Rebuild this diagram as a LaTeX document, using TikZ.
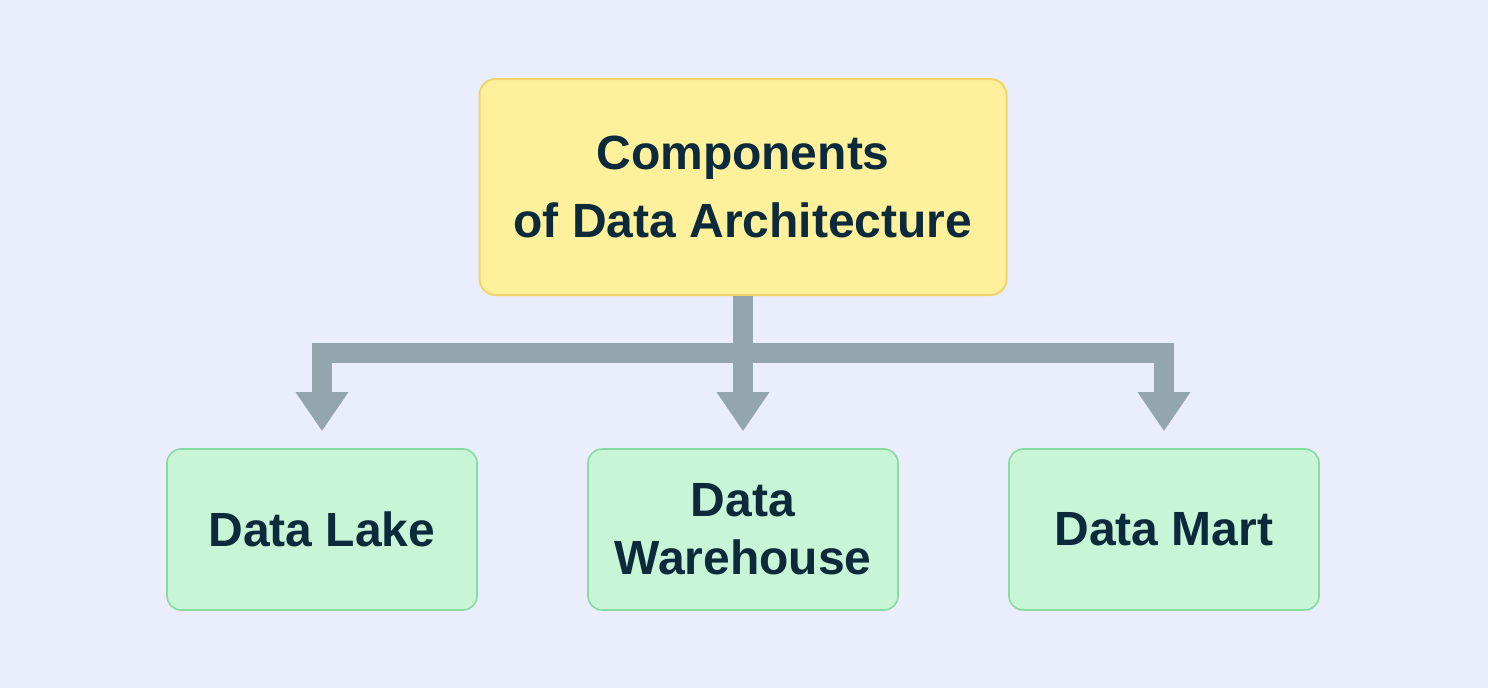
\documentclass[tikz,border=0pt]{standalone}
\usepackage{fontspec}
\setmainfont{Liberation Sans}
\usetikzlibrary{arrows.meta}
\definecolor{bgc}{HTML}{EAEEFC}
\definecolor{yfill}{HTML}{FFF09B}
\definecolor{ydraw}{HTML}{F3D36B}
\definecolor{gfill}{HTML}{C7F5D6}
\definecolor{gdraw}{HTML}{86DC9E}
\definecolor{conc}{HTML}{93A6AE}
\definecolor{txt}{HTML}{0B2A3B}
\tikzset{
  topbox/.style={draw=ydraw, fill=yfill, line width=2pt, rounded corners=16pt,
    minimum width=527pt, minimum height=216pt, align=center, text=txt,
    font=\fontsize{48}{68}\selectfont\bfseries, inner sep=0pt},
  leafbox/.style={draw=gdraw, fill=gfill, line width=1.6pt, rounded corners=14pt,
    minimum width=310pt, minimum height=161pt, align=center, text=txt,
    font=\fontsize{48}{58}\selectfont\bfseries, inner sep=0pt},
  conn/.style={draw=conc, line width=20pt,
    -{Triangle[width=50pt,length=39pt]}, shorten >=17pt}
}
\begin{document}
\begin{tikzpicture}[x=1pt,y=-1pt]
\fill[bgc] (0,0) rectangle (1488,688);
\useasboundingbox (0,0) rectangle (1488,688);
\node[topbox] (top) at (743,187) {Components\\of Data Architecture};
\node[leafbox] (lake) at (322,529.5) {Data Lake};
\node[leafbox] (wh) at (743,529.5) {Data\\Warehouse};
\node[leafbox] (mart) at (1164,529.5) {Data Mart};
\coordinate (bar) at (743,353);
\draw[conn] (top.south) -- (top.south |- bar) -| (lake.north);
\draw[conn] (top.south) -- (top.south |- bar) -| (mart.north);
\draw[conn] (top.south) -- (wh.north);
\end{tikzpicture}
\end{document}
